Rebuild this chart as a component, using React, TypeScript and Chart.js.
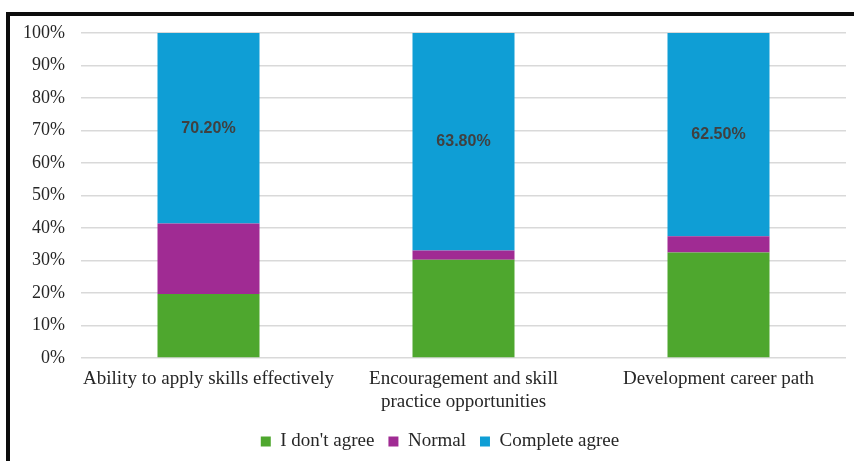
import React, { useEffect, useRef } from "react";
import { Chart, registerables } from "chart.js";

Chart.register(...registerables);

const categories: (string | string[])[] = [
  "Ability to apply skills effectively",
  ["Encouragement and skill", "practice opportunities"],
  "Development career path",
];
const disagreeValues = [19.7, 30.2, 32.5];
const normalValues = [21.7, 2.9, 5.0];
const agreeValues = [58.6, 66.9, 62.5];
const agreeLabels = ["70.20%", "63.80%", "62.50%"];
const seriesNames = ["I don't agree", "Normal", "Complete agree"];
const yTicks = [0, 10, 20, 30, 40, 50, 60, 70, 80, 90, 100];

const SERIF = '"Liberation Serif", "Times New Roman", serif';
const SANS = '"Liberation Sans", Arial, sans-serif';

const framePlugin = {
  id: "frame",
  afterLayout(chart: any) {
    const lg = chart.legend;
    if (lg) {
      lg.left = 34;
      lg.width = lg.right - lg.left;
    }
  },
  beforeDraw(chart: any) {
    const ctx = chart.ctx;
    ctx.save();
    ctx.fillStyle = "#ffffff";
    ctx.fillRect(0, 0, chart.width, chart.height);
    ctx.fillStyle = "#0d0d0d";
    ctx.fillRect(6, 12, chart.width - 6, 4);
    ctx.fillRect(6, 12, 4, chart.height - 12);
    ctx.restore();
  },
};

const labelPlugin = {
  id: "agreeLabels",
  afterDatasetsDraw(chart: any) {
    const ctx = chart.ctx;
    const meta = chart.getDatasetMeta(2);
    ctx.save();
    ctx.font = `bold 16px ${SANS}`;
    ctx.fillStyle = "#404040";
    ctx.textAlign = "center";
    ctx.textBaseline = "middle";
    meta.data.forEach((bar: any, i: number) => {
      const cy = (bar.y + bar.base) / 2;
      ctx.fillText(agreeLabels[i], bar.x, cy);
    });
    ctx.restore();
  },
};

export default function App() {
  const ref = useRef<HTMLCanvasElement | null>(null);

  useEffect(() => {
    if (!ref.current) return;
    const chart = new Chart(ref.current, {
      type: "bar",
      data: {
        labels: categories,
        datasets: [
          { label: seriesNames[0], data: disagreeValues, backgroundColor: "#4EA72E" },
          { label: seriesNames[1], data: normalValues, backgroundColor: "#A02B93" },
          { label: seriesNames[2], data: agreeValues, backgroundColor: "#0F9ED5" },
        ],
      },
      options: {
        animation: false,
        responsive: false,
        maintainAspectRatio: false,
        layout: { padding: { left: 10, right: 8, top: 33, bottom: 0 } },
        datasets: { bar: { barPercentage: 0.4, categoryPercentage: 1 } },
        scales: {
          x: {
            stacked: true,
            grid: { display: false, drawTicks: false },
            border: { display: false },
            ticks: {
              font: { family: SERIF, size: 19 },
              color: "#262626",
              padding: 10,
              maxRotation: 0,
              autoSkip: false,
            },
            afterFit(scale: any) {
              scale.height = 60;
            },
          },
          y: {
            stacked: true,
            min: 0,
            max: 100,
            afterBuildTicks(scale: any) {
              scale.ticks = yTicks.map((v) => ({ value: v }));
            },
            grid: { color: "#d9d9d9", lineWidth: 1.5, drawTicks: false },
            border: { display: false },
            ticks: {
              font: { family: SERIF, size: 18 },
              color: "#262626",
              padding: 16,
              callback: (v: any) => `${v}%`,
            },
            afterFit(scale: any) {
              scale.width = 71;
            },
          },
        },
        plugins: {
          tooltip: { enabled: false },
          legend: {
            position: "bottom",
            labels: {
              font: { family: SERIF, size: 19 },
              color: "#262626",
              boxWidth: 10,
              boxHeight: 10,
              padding: 14,
            },
          },
        },
      },
      plugins: [framePlugin, labelPlugin],
    });
    return () => chart.destroy();
  }, []);

  return (
    <div style={{ position: "absolute", left: 0, top: 0, width: 854, height: 461 }}>
      <canvas ref={ref} width={854} height={461} style={{ display: "block" }} />
    </div>
  );
}
